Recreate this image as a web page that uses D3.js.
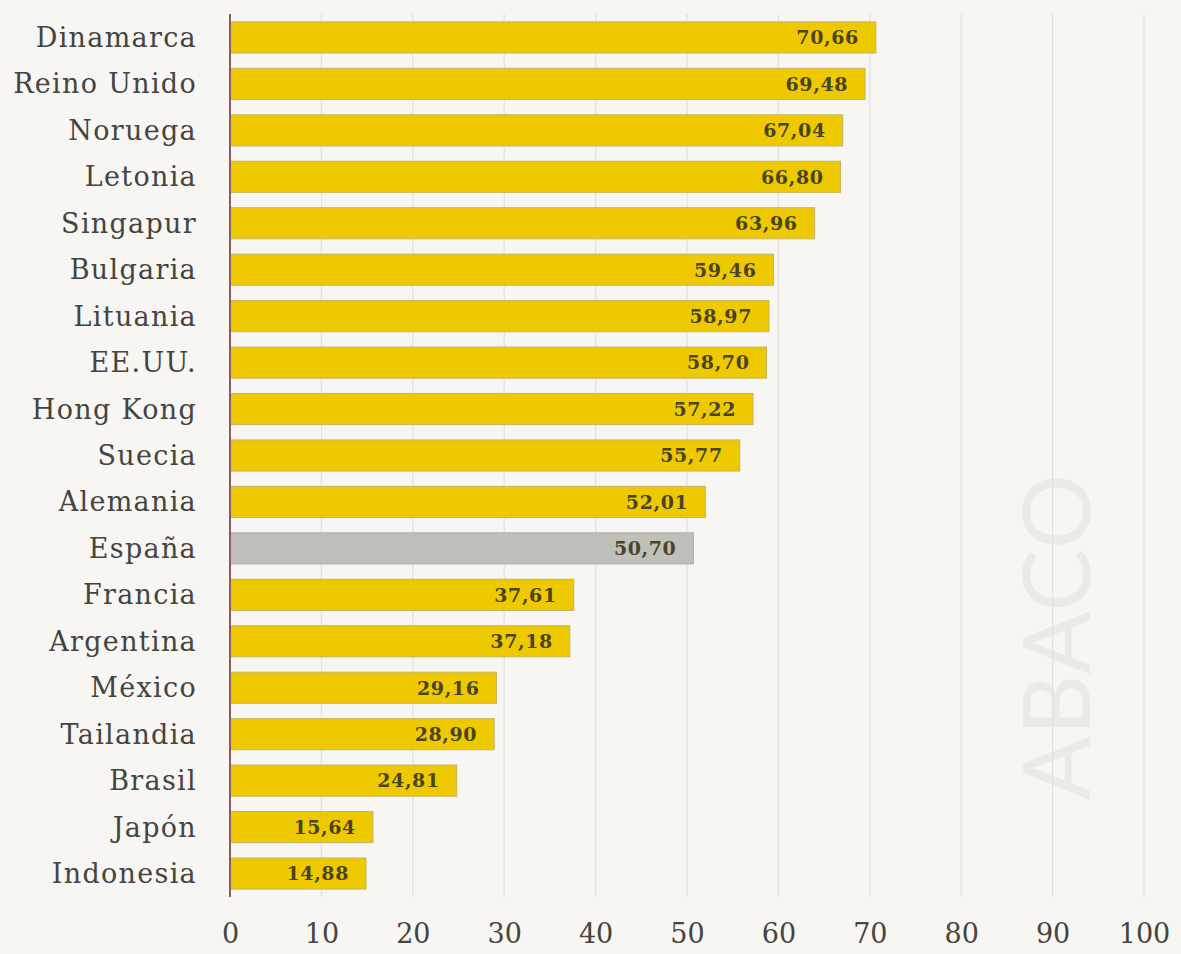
<!DOCTYPE html>
<html>
<head>
<meta charset="utf-8">
<script src="https://cdn.jsdelivr.net/npm/d3@7"></script>
<style>
  html, body { margin: 0; padding: 0; background: #f7f6f3; }
  svg { display: block; }
</style>
</head>
<body>
<svg id="chart" width="1181" height="954"></svg>
<script>
// data
var countries = ["Dinamarca", "Reino Unido", "Noruega", "Letonia", "Singapur", "Bulgaria",
  "Lituania", "EE.UU.", "Hong Kong", "Suecia", "Alemania", "España", "Francia",
  "Argentina", "México", "Tailandia", "Brasil", "Japón", "Indonesia"];
var values = [70.66, 69.48, 67.04, 66.80, 63.96, 59.46, 58.97, 58.70, 57.22, 55.77,
  52.01, 50.70, 37.61, 37.18, 29.16, 28.90, 24.81, 15.64, 14.88];
var xTicks = [0, 10, 20, 30, 40, 50, 60, 70, 80, 90, 100];
var highlight = "España";

var data = countries.map(function(c, i){ return {name: c, value: values[i]}; });

var svg = d3.select("#chart");
var W = 1181, H = 954;

svg.append("rect").attr("width", W).attr("height", H).attr("fill", "#f7f6f3");

// scales
var xScale = d3.scaleLinear().domain([0, 100]).range([230, 1144]);
var yScale = d3.scaleBand().domain(countries).range([14, 897]).paddingInner(0.33).paddingOuter(0.17);

var fmt = function(v){ return d3.format(".2f")(v).replace(".", ","); };

// watermark
svg.append("text")
  .attr("transform", "translate(1090,800) rotate(-90)")
  .attr("font-family", "Lato, 'Open Sans', sans-serif")
  .attr("font-size", 94)
  .attr("font-weight", 400)
  .attr("letter-spacing", "1px")
  .attr("fill", "#ebeae6")
  .text("ABACO");

// grid
svg.append("g").selectAll("line")
  .data(xTicks.slice(1))
  .enter().append("line")
  .attr("x1", function(d){ return xScale(d); })
  .attr("x2", function(d){ return xScale(d); })
  .attr("y1", 14).attr("y2", 897)
  .attr("stroke", "#e2e1dc").attr("stroke-width", 1.2);

// bars
svg.append("g").selectAll("rect")
  .data(data)
  .enter().append("rect")
  .attr("x", xScale(0))
  .attr("y", function(d){ return yScale(d.name); })
  .attr("width", function(d){ return xScale(d.value) - xScale(0); })
  .attr("height", yScale.bandwidth())
  .attr("fill", function(d){ return d.name === highlight ? "#c1bfb9" : "#eec900"; })
  .attr("stroke", function(d){ return d.name === highlight ? "#b0aea8" : "#c4b367"; })
  .attr("stroke-width", 1);

// value labels
svg.append("g").selectAll("text")
  .data(data)
  .enter().append("text")
  .attr("x", function(d){ return xScale(d.value) - 17; })
  .attr("y", function(d){ return yScale(d.name) + yScale.bandwidth() / 2; })
  .attr("dy", "0.36em")
  .attr("text-anchor", "end")
  .attr("font-family", "'DejaVu Serif', serif")
  .attr("font-size", 19)
  .attr("font-weight", "bold")
  .attr("letter-spacing", "0.6px")
  .attr("fill", "#4a4426")
  .text(function(d){ return fmt(d.value); });

// category labels
svg.append("g").selectAll("text")
  .data(data)
  .enter().append("text")
  .attr("x", 197)
  .attr("y", function(d){ return yScale(d.name) + yScale.bandwidth() / 2; })
  .attr("dy", "0.35em")
  .attr("text-anchor", "end")
  .attr("font-family", "'DejaVu Serif', serif")
  .attr("font-size", 27)
  .attr("letter-spacing", "1.3px")
  .attr("fill", "#444440")
  .text(function(d){ return d.name; });

// y axis line
svg.append("line")
  .attr("x1", xScale(0)).attr("x2", xScale(0))
  .attr("y1", 14).attr("y2", 897)
  .attr("stroke", "#8e5a5e").attr("stroke-width", 2);

// x axis
var xAxis = svg.append("g")
  .attr("transform", "translate(0,924)")
  .call(d3.axisBottom(xScale).tickValues(xTicks).tickSize(0).tickPadding(0));
xAxis.select(".domain").remove();
xAxis.selectAll("text")
  .attr("font-family", "'DejaVu Serif', serif")
  .attr("font-size", 27)
  .attr("fill", "#444440");
</script>
</body>
</html>
